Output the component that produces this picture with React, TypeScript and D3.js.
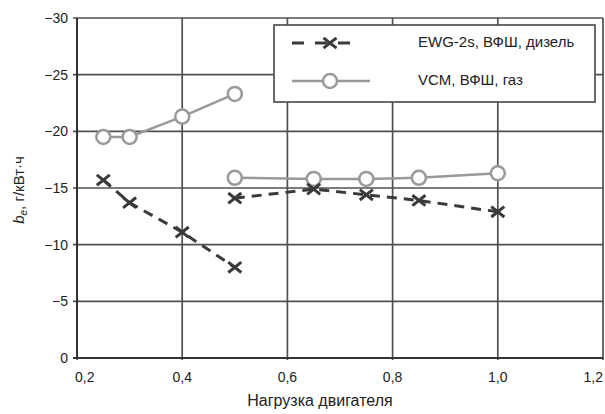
import React from "react";
import * as d3 from "d3";

const xTicks = [0.2, 0.4, 0.6, 0.8, 1.0, 1.2];
const xTickLabels = ["0,2", "0,4", "0,6", "0,8", "1,0", "1,2"];
const yTicks = [0, -5, -10, -15, -20, -25, -30];
const yTickLabels = ["0", "−5", "−10", "−15", "−20", "−25", "−30"];

// Diesel EWG-2s (two separate segments)
const dieselLoad1 = [0.25, 0.3, 0.4, 0.5];
const dieselBe1 = [-15.7, -13.7, -11.1, -8.0];
const dieselLoad2 = [0.5, 0.65, 0.75, 0.85, 1.0];
const dieselBe2 = [-14.1, -14.9, -14.4, -13.9, -12.9];

// Gas VCM (two separate segments)
const gasLoad1 = [0.25, 0.3, 0.4, 0.5];
const gasBe1 = [-19.5, -19.5, -21.3, -23.3];
const gasLoad2 = [0.5, 0.65, 0.75, 0.85, 1.0];
const gasBe2 = [-15.9, -15.8, -15.8, -15.9, -16.3];

const legendLabels = ["EWG-2s, ВФШ, дизель", "VCM, ВФШ, газ"];

const W = 605;
const H = 414;
const FONT = "'Liberation Sans Narrow', 'Liberation Sans', Arial, sans-serif";

export default function App() {
  const x = d3.scaleLinear().domain([0.2, 1.2]).range([77, 603]);
  const y = d3.scaleLinear().domain([0, -30]).range([358, 18]);
  const line = d3
    .line<[number, number]>()
    .x((d) => x(d[0]))
    .y((d) => y(d[1]));

  const zip = (a: number[], b: number[]) => a.map((v, i) => [v, b[i]] as [number, number]);
  const diesel = [zip(dieselLoad1, dieselBe1), zip(dieselLoad2, dieselBe2)];
  const gas = [zip(gasLoad1, gasBe1), zip(gasLoad2, gasBe2)];

  const gridColor = "#505050";
  const dieselColor = "#3a3a3a";
  const gasColor = "#999999";

  const cross = (cx: number, cy: number, key: string, s = 6.5) => (
    <g key={key} stroke={dieselColor} strokeWidth={3}>
      <line x1={cx - s} y1={cy - s * 0.8} x2={cx + s} y2={cy + s * 0.8} />
      <line x1={cx - s} y1={cy + s * 0.8} x2={cx + s} y2={cy - s * 0.8} />
    </g>
  );

  return (
    <div style={{ position: "absolute", left: 0, top: 0 }}>
      <svg width={W} height={H} style={{ display: "block", background: "#fff" }} fontFamily={FONT}>
        {/* horizontal gridlines */}
        {yTicks.map((t) => (
          <line key={"hy" + t} x1={x(0.2) - 4} x2={x(1.2)} y1={y(t)} y2={y(t)} stroke={gridColor} strokeWidth={1.7} />
        ))}
        {/* vertical gridlines */}
        {xTicks.map((t) => (
          <line key={"vx" + t} x1={x(t)} x2={x(t)} y1={y(-30)} y2={y(0) + 2} stroke={gridColor} strokeWidth={1.7} />
        ))}
        {/* axes */}
        <line x1={x(0.2)} x2={x(0.2)} y1={y(-30)} y2={y(0)} stroke="#333" strokeWidth={2} />
        <line x1={x(0.2) - 4} x2={x(1.2)} y1={y(0)} y2={y(0)} stroke="#333" strokeWidth={2} />

        {/* y tick labels */}
        {yTicks.map((t, i) => (
          <text key={"yl" + t} x={68} y={y(t)} dy="0.35em" textAnchor="end" fontSize={14} fill="#222">
            {yTickLabels[i]}
          </text>
        ))}
        {/* x tick labels */}
        {xTicks.map((t, i) => (
          <text
            key={"xl" + t}
            x={i === 0 ? x(t) - 2 : x(t)}
            y={382}
            textAnchor={i === 0 ? "start" : i === xTicks.length - 1 ? "end" : "middle"}
            fontSize={14}
            fill="#222"
          >
            {xTickLabels[i]}
          </text>
        ))}

        {/* axis titles */}
        <text x={320} y={406} textAnchor="middle" fontSize={16} fill="#222">
          Нагрузка двигателя
        </text>
        <text transform="translate(24,190) rotate(-90)" textAnchor="middle" fontSize={15} fill="#222">
          <tspan fontStyle="italic">b</tspan>
          <tspan fontStyle="italic" fontSize={10} dy={3}>e</tspan>
          <tspan dy={-3}>, г/кВт·ч</tspan>
        </text>

        {/* gas series */}
        {gas.map((seg, i) => (
          <path key={"gl" + i} d={line(seg) || ""} fill="none" stroke={gasColor} strokeWidth={2.5} />
        ))}
        {/* diesel series */}
        {diesel.map((seg, i) => (
          <path
            key={"dl" + i}
            d={line(seg) || ""}
            fill="none"
            stroke={dieselColor}
            strokeWidth={3}
            strokeDasharray="10,7"
          />
        ))}
        {gas.flat().map((d, i) => (
          <circle key={"gc" + i} cx={x(d[0])} cy={y(d[1])} r={7} fill="#fff" stroke={gasColor} strokeWidth={2.5} />
        ))}
        {diesel.flat().map((d, i) => cross(x(d[0]), y(d[1]), "dc" + i))}

        {/* legend */}
        <rect x={274} y={25} width={321} height={77} fill="#fff" stroke={gridColor} strokeWidth={1.7} />
        <line x1={292} x2={360} y1={43} y2={43} stroke={dieselColor} strokeWidth={3} strokeDasharray="12,11" />
        {cross(330, 43, "lg")}
        <line x1={292} x2={370} y1={81} y2={81} stroke={gasColor} strokeWidth={2.5} />
        <circle cx={330} cy={81} r={7} fill="#fff" stroke={gasColor} strokeWidth={2.5} />
        <text x={418} y={47} fontSize={15} fill="#222">
          {legendLabels[0]}
        </text>
        <text x={418} y={85} fontSize={15} fill="#222">
          {legendLabels[1]}
        </text>
      </svg>
    </div>
  );
}
